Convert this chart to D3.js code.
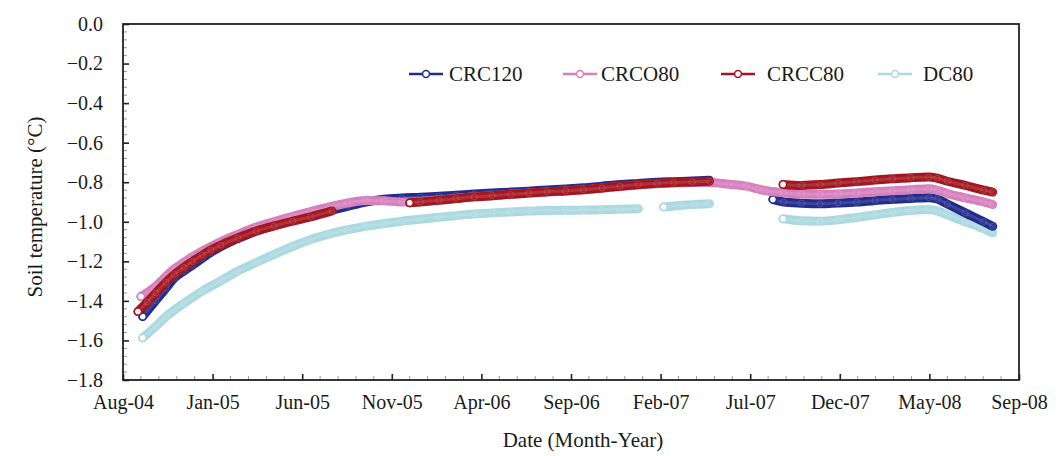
<!DOCTYPE html>
<html>
<head>
<meta charset="utf-8">
<script src="https://cdn.jsdelivr.net/npm/d3@7"></script>
<style>
  html, body { margin: 0; padding: 0; background: #fff; }
  svg { display: block; }
  text { font-family: "Liberation Serif", "Times New Roman", serif; fill: #1a1a1a; }
</style>
</head>
<body>
<svg id="chart" width="1059" height="456"></svg>
<script>
// ---------------- DATA ----------------
const seriesNames = ["CRC120", "CRCO80", "CRCC80", "DC80"];

const xTickLabels = ["Aug-04","Jan-05","Jun-05","Nov-05","Apr-06","Sep-06","Feb-07","Jul-07","Dec-07","May-08","Sep-08"];
const yTickValues = [0, -0.2, -0.4, -0.6, -0.8, -1.0, -1.2, -1.4, -1.6, -1.8];

// null marks a gap in the record
const CRC120 = [
  ["2004-09-23",-1.479],["2004-10-15",-1.398],["2004-11-01",-1.336],["2004-11-15",-1.285],
  ["2004-12-01",-1.249],["2004-12-15",-1.220],["2005-01-01",-1.184],["2005-01-15",-1.155],
  ["2005-02-01",-1.125],["2005-03-01",-1.085],["2005-04-01",-1.047],["2005-05-01",-1.020],
  ["2005-06-01",-0.993],["2005-07-01",-0.968],["2005-08-01",-0.945],["2005-09-01",-0.922],
  ["2005-10-01",-0.900],["2005-11-01",-0.886],["2005-12-01",-0.880],["2006-01-01",-0.876],
  ["2006-02-01",-0.871],["2006-03-01",-0.866],["2006-04-01",-0.860],["2006-05-01",-0.855],
  ["2006-06-01",-0.850],["2006-07-01",-0.845],["2006-08-01",-0.839],["2006-09-01",-0.834],
  ["2006-10-01",-0.828],["2006-11-01",-0.820],["2006-12-01",-0.812],["2007-01-01",-0.806],
  ["2007-02-01",-0.800],["2007-03-01",-0.797],["2007-04-01",-0.794],["2007-04-30",-0.790],
  null,
  ["2007-08-14",-0.887],["2007-09-01",-0.900],["2007-10-01",-0.906],["2007-11-01",-0.909],
  ["2007-12-01",-0.905],["2008-01-01",-0.900],["2008-02-01",-0.893],["2008-03-01",-0.886],
  ["2008-04-01",-0.882],["2008-05-01",-0.878],["2008-05-15",-0.885],["2008-06-01",-0.910],
  ["2008-07-01",-0.955],["2008-08-01",-1.000],["2008-08-16",-1.023]
];

const CRCO80 = [
  ["2004-09-20",-1.378],["2004-10-15",-1.325],["2004-11-01",-1.276],["2004-11-15",-1.238],
  ["2004-12-01",-1.205],["2004-12-15",-1.177],["2005-01-01",-1.148],["2005-02-01",-1.100],
  ["2005-03-01",-1.064],["2005-04-01",-1.027],["2005-05-01",-0.999],["2005-06-01",-0.972],
  ["2005-07-01",-0.948],["2005-08-01",-0.925],["2005-09-01",-0.905],["2005-10-01",-0.892],
  ["2005-11-01",-0.894],["2005-12-01",-0.900],["2006-01-01",-0.897],["2006-02-01",-0.890],
  ["2006-03-01",-0.882],["2006-04-01",-0.874],["2006-05-01",-0.868],["2006-06-01",-0.861],
  ["2006-07-01",-0.855],["2006-08-01",-0.849],["2006-09-01",-0.844],["2006-10-01",-0.838],
  ["2006-11-01",-0.830],["2006-12-01",-0.822],["2007-01-01",-0.814],["2007-02-01",-0.808],
  ["2007-03-01",-0.804],["2007-04-01",-0.801],["2007-05-01",-0.801],["2007-06-01",-0.810],
  ["2007-07-01",-0.820],["2007-07-20",-0.834],["2007-08-01",-0.842],["2007-09-01",-0.853],
  ["2007-10-01",-0.860],["2007-11-01",-0.861],["2007-12-01",-0.859],["2008-01-01",-0.855],
  ["2008-02-01",-0.848],["2008-03-01",-0.843],["2008-04-01",-0.838],["2008-05-01",-0.833],
  ["2008-05-15",-0.840],["2008-06-01",-0.857],["2008-07-01",-0.879],["2008-08-01",-0.900],
  ["2008-08-16",-0.913]
];

const CRCC80 = [
  ["2004-09-15",-1.454],["2004-10-01",-1.405],["2004-10-15",-1.360],["2004-11-01",-1.306],
  ["2004-11-15",-1.266],["2004-12-01",-1.230],["2004-12-15",-1.201],["2005-01-01",-1.168],
  ["2005-01-15",-1.143],["2005-02-01",-1.118],["2005-03-01",-1.082],["2005-04-01",-1.047],
  ["2005-05-01",-1.021],["2005-06-01",-0.997],["2005-07-01",-0.975],["2005-08-06",-0.945],
  null,
  ["2005-12-14",-0.904],["2006-01-01",-0.900],["2006-02-01",-0.891],["2006-03-01",-0.883],
  ["2006-04-01",-0.874],["2006-05-01",-0.868],["2006-06-01",-0.861],["2006-07-01",-0.855],
  ["2006-08-01",-0.848],["2006-09-01",-0.844],["2006-10-01",-0.838],["2006-11-01",-0.829],
  ["2006-12-01",-0.820],["2007-01-01",-0.812],["2007-02-01",-0.805],["2007-03-01",-0.802],
  ["2007-04-01",-0.799],["2007-04-30",-0.795],
  null,
  ["2007-08-31",-0.811],["2007-10-01",-0.816],["2007-11-01",-0.812],["2007-12-01",-0.804],
  ["2008-01-01",-0.797],["2008-02-01",-0.789],["2008-03-01",-0.783],["2008-04-01",-0.777],
  ["2008-05-01",-0.774],["2008-05-15",-0.780],["2008-06-01",-0.795],["2008-07-01",-0.816],
  ["2008-08-01",-0.840],["2008-08-16",-0.850]
];

const DC80 = [
  ["2004-09-23",-1.587],["2004-10-15",-1.528],["2004-11-01",-1.480],["2004-12-01",-1.412],
  ["2005-01-01",-1.350],["2005-02-01",-1.298],["2005-03-01",-1.250],["2005-04-01",-1.206],
  ["2005-05-01",-1.165],["2005-06-01",-1.125],["2005-07-01",-1.090],["2005-08-01",-1.062],
  ["2005-09-01",-1.040],["2005-10-01",-1.023],["2005-11-01",-1.009],["2005-12-01",-0.997],
  ["2006-01-01",-0.987],["2006-02-01",-0.977],["2006-03-01",-0.969],["2006-04-01",-0.961],
  ["2006-05-01",-0.955],["2006-06-01",-0.950],["2006-07-01",-0.946],["2006-08-01",-0.943],
  ["2006-09-01",-0.942],["2006-10-01",-0.941],["2006-11-01",-0.939],["2006-12-01",-0.937],
  ["2007-01-01",-0.934],
  null,
  ["2007-02-12",-0.925],["2007-03-11",-0.918],["2007-04-06",-0.912],["2007-04-30",-0.909],
  null,
  ["2007-08-31",-0.985],["2007-10-01",-0.995],["2007-11-01",-0.997],["2007-12-01",-0.990],
  ["2008-01-01",-0.978],["2008-02-01",-0.965],["2008-03-01",-0.953],["2008-04-01",-0.943],
  ["2008-05-01",-0.938],["2008-05-15",-0.945],["2008-06-01",-0.965],["2008-07-01",-1.000],
  ["2008-08-01",-1.035],["2008-08-16",-1.056]
];

const axisStart = "2004-08-21";
const axisTickStepDays = 150;

// ---------------- STYLE ----------------
const colors = {CRC120: "#222c8c", CRCO80: "#d57fbc", CRCC80: "#a3161f", DC80: "#abd9e0"};
const drawOrder = ["DC80", "CRC120", "CRCO80", "CRCC80"];
const seriesData = {CRC120, CRCO80, CRCC80, DC80};

const W = 1059, H = 456;
const plot = {left: 123, right: 1019, top: 24, bottom: 380};

const parse = d3.timeParse("%Y-%m-%d");
const start = parse(axisStart);
const xTicks = xTickLabels.map((_, i) => d3.timeDay.offset(start, axisTickStepDays * i));

const x = d3.scaleTime().domain([xTicks[0], xTicks[xTicks.length - 1]]).range([plot.left, plot.right]);
const y = d3.scaleLinear().domain([-1.8, 0]).range([plot.bottom, plot.top]);

const svg = d3.select("#chart");
svg.append("rect").attr("width", W).attr("height", H).attr("fill", "#fff");

// minor ticks
const minorX = [];
for (let i = 0; i < xTicks.length - 1; i++) {
  for (let k = 1; k < 5; k++) minorX.push(d3.timeDay.offset(xTicks[i], 30 * k));
}
svg.append("g").selectAll("line").data(minorX).join("line")
  .attr("x1", d => x(d)).attr("x2", d => x(d))
  .attr("y1", plot.bottom).attr("y2", plot.bottom - 4)
  .attr("stroke", "#999").attr("stroke-width", 1);
const minorY = d3.range(0, 45).map(i => -i * 0.04).filter((v, i) => i % 5 !== 0);
svg.append("g").selectAll("line").data(minorY).join("line")
  .attr("x1", plot.left).attr("x2", plot.left + 4)
  .attr("y1", d => y(d)).attr("y2", d => y(d))
  .attr("stroke", "#999").attr("stroke-width", 1);

// axes
const fmtY = v => (Math.abs(v) < 1e-9 ? "0.0" : d3.format(".1f")(v));
const yAxis = svg.append("g").attr("transform", `translate(${plot.left},0)`)
  .call(d3.axisLeft(y).tickValues(yTickValues).tickFormat(fmtY).tickSize(-6).tickPadding(20));
const xAxis = svg.append("g").attr("transform", `translate(0,${plot.bottom})`)
  .call(d3.axisBottom(x).tickValues(xTicks).tickFormat((d, i) => xTickLabels[i]).tickSize(-6).tickPadding(15));
[yAxis, xAxis].forEach(g => {
  g.select(".domain").remove();
  g.selectAll(".tick line").attr("stroke", "#222").attr("stroke-width", 1.6);
  g.selectAll(".tick text").style("font-family", '"Liberation Serif", serif').style("font-size", "20px").attr("fill", "#1a1a1a");
});

// frame
svg.append("rect")
  .attr("x", plot.left).attr("y", plot.top)
  .attr("width", plot.right - plot.left).attr("height", plot.bottom - plot.top)
  .attr("fill", "none").attr("stroke", "#222").attr("stroke-width", 1.8);

// series
const line = d3.line()
  .defined(d => d !== null)
  .x(d => x(parse(d[0])))
  .y(d => y(d[1]))
  .curve(d3.curveMonotoneX);

const seriesG = svg.append("g");
drawOrder.forEach(name => {
  const data = seriesData[name];
  const g = seriesG.append("g");
  g.append("path").attr("d", line(data))
    .attr("fill", "none").attr("stroke", colors[name])
    .attr("stroke-width", 9).attr("stroke-linecap", "round").attr("stroke-linejoin", "round");
  g.append("path").attr("d", line(data))
    .attr("fill", "none").attr("stroke", "#fff").attr("stroke-opacity", 0.12)
    .attr("stroke-width", 3).attr("stroke-linecap", "round");
  // texture circles at each point
  g.selectAll("circle.pt").data(data.filter(d => d !== null)).join("circle")
    .attr("class", "pt")
    .attr("cx", d => x(parse(d[0]))).attr("cy", d => y(d[1])).attr("r", 3)
    .attr("fill", "none").attr("stroke", "#fff").attr("stroke-opacity", 0.18).attr("stroke-width", 0.8);
  // open circle at segment starts
  const starts = data.filter((d, i) => d !== null && (i === 0 || data[i - 1] === null));
  g.selectAll("circle.st").data(starts).join("circle")
    .attr("class", "st")
    .attr("cx", d => x(parse(d[0]))).attr("cy", d => y(d[1])).attr("r", 3.6)
    .attr("fill", "#fff").attr("stroke", colors[name]).attr("stroke-width", 1.6);
});

// legend
const legendItems = [
  {name: "CRC120", x0: 409, tx: 449},
  {name: "CRCO80", x0: 563, tx: 601},
  {name: "CRCC80", x0: 721, tx: 767},
  {name: "DC80",   x0: 878, tx: 923}
];
const lg = svg.append("g");
legendItems.forEach(it => {
  const cy = 74;
  lg.append("line").attr("x1", it.x0).attr("x2", it.x0 + 34).attr("y1", cy).attr("y2", cy)
    .attr("stroke", colors[it.name]).attr("stroke-width", 2.6);
  lg.append("circle").attr("cx", it.x0 + 17).attr("cy", cy).attr("r", 3.4)
    .attr("fill", "#fff").attr("stroke", colors[it.name]).attr("stroke-width", 1.5);
  lg.append("text").attr("x", it.tx).attr("y", cy).attr("dy", "0.35em")
    .style("font-size", "21px").text(it.name);
});

// axis titles
svg.append("text").attr("x", (plot.left + plot.right) / 2 + 12).attr("y", 447)
  .attr("text-anchor", "middle").style("font-size", "21px").text("Date (Month-Year)");
svg.append("text").attr("transform", "translate(42,207) rotate(-90)")
  .attr("text-anchor", "middle").style("font-size", "21px").text("Soil temperature (°C)");
</script>
</body>
</html>
